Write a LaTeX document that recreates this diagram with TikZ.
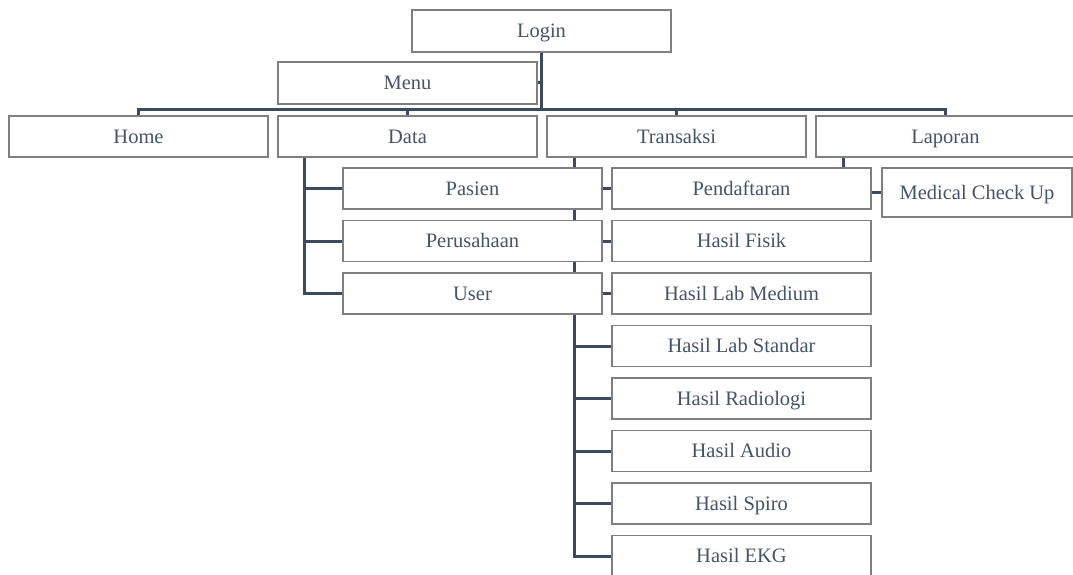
\documentclass[tikz,border=0pt]{standalone}
\usepackage{fontspec}
\setmainfont{Liberation Serif}
\usepackage{xcolor}
\usetikzlibrary{backgrounds,positioning,calc}
\definecolor{linecol}{HTML}{3B4A5F}
\definecolor{textcol}{HTML}{44546A}
\definecolor{boxcol}{HTML}{7F7F7F}

\begin{document}
\begin{tikzpicture}[x=1pt,y=-1pt]
  \tikzset{menubox/.style={draw=boxcol, line width=1.2pt, fill=white, text=textcol,
      minimum width=259pt, minimum height=41pt, inner sep=0pt,
      text height=13.5pt, text depth=0pt,
      font=\fontsize{20.5}{24}\selectfont}}
  \tikzset{link/.style={draw=linecol, line width=3pt}}
    \useasboundingbox (0,0) rectangle (1073,575);

    \node[menubox, minimum height=42pt] (login) at (541.5, 31) {Login};
    \node[menubox, minimum height=42pt] (menu) at (407.5, 83) {Menu};

    \node[menubox] (home) at (138.5, 136.5) {Home};
    \node[menubox] (data) at (407.5, 136.5) {Data};
    \node[menubox] (transaksi) at (676.5, 136.5) {Transaksi};
    \node[menubox] (laporan) at (945.5, 136.5) {Laporan};

    \foreach \name/\txt [count=\i] in {pasien/Pasien, perusahaan/Perusahaan, user/User}
      \node[menubox] (\name) at (472.5, 188.5+52.5*\i-52.5) {\txt};

    \foreach \name/\txt [count=\i] in {pendaftaran/Pendaftaran, fisik/Hasil Fisik,
        labmedium/Hasil Lab Medium, labstandar/Hasil Lab Standar,
        radiologi/Hasil Radiologi, audio/Hasil Audio, spiro/Hasil Spiro, ekg/Hasil EKG}
      \node[menubox] (\name) at (741.5, 188.5+52.5*\i-52.5) {\txt};

    \node[menubox, minimum width=190pt, minimum height=49pt] (mcu) at (977, 192.5) {Medical Check Up};

    \coordinate (bus) at (541.5, 110);

    \begin{scope}[on background layer]
      \draw[link] (login.south) -- (bus);
      \draw[link] (menu.east) -| (bus);
      \foreach \c in {home, data, transaksi, laporan}
        \draw[link] (bus) -| (\c.north);

      \foreach \c in {pasien, perusahaan, user}
        \draw[link] ([xshift=-103.5]data.south) |- (\c.west);

      \foreach \c in {pendaftaran, fisik, labmedium, labstandar, radiologi, audio, spiro, ekg}
        \draw[link] ([xshift=-102.5]transaksi.south) |- (\c.west);

      \draw[link] ([xshift=-102.5]laporan.south) |- (mcu.west);
    \end{scope}
\end{tikzpicture}
\end{document}
